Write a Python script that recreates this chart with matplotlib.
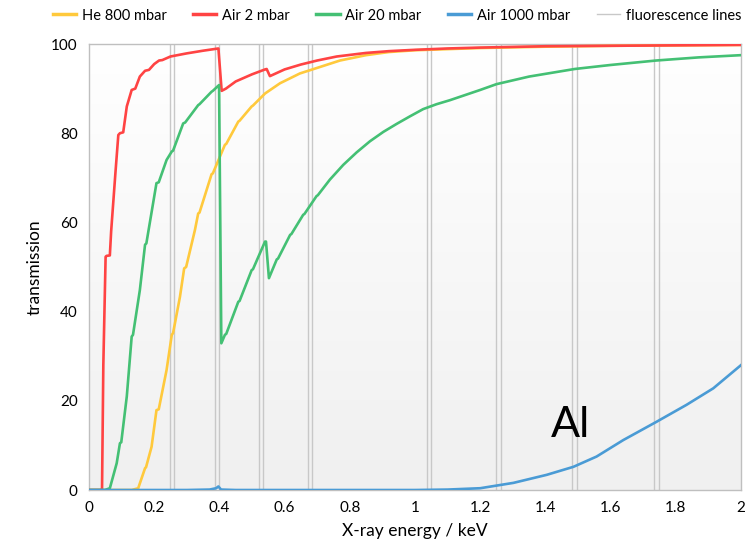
import numpy as np
import matplotlib
matplotlib.use("Agg")
import matplotlib.pyplot as plt
from matplotlib.lines import Line2D
from matplotlib.colors import LinearSegmentedColormap

plt.rcParams['font.family'] = ['Lato', 'DejaVu Sans']

# ---- data ----
red_x = [0, 0.036, 0.040, 0.044, 0.051, 0.054, 0.064, 0.068, 0.081, 0.09, 0.095, 0.105, 0.116,
         0.131, 0.142, 0.156, 0.172, 0.184, 0.2, 0.215, 0.225, 0.25, 0.3, 0.35, 0.397, 0.407,
         0.42, 0.45, 0.5, 0.54, 0.545, 0.555, 0.6, 0.65, 0.7, 0.76, 0.85, 0.92, 1.0, 1.1, 1.2,
         1.4, 1.6, 1.8, 2.0]
red_y = [0, 0, 0, 28, 52.3, 52.5, 52.6, 58, 71, 79.6, 80, 80.2, 86,
         89.7, 90, 92.7, 94, 94.2, 95.5, 96.3, 96.4, 97.2, 97.9, 98.5, 99.0, 89.5,
         90, 91.6, 93.2, 94.3, 94.4, 92.8, 94.3, 95.4, 96.3, 97.2, 98.0, 98.4, 98.7, 99.0, 99.2,
         99.5, 99.6, 99.7, 99.8]

yel_x = [0, 0.131, 0.151, 0.172, 0.175, 0.192, 0.207, 0.214, 0.238, 0.254, 0.258, 0.279, 0.292,
         0.298, 0.325, 0.335, 0.339, 0.376, 0.380, 0.417, 0.421, 0.458, 0.462, 0.499, 0.503,
         0.540, 0.586, 0.647, 0.698, 0.770, 0.85, 0.92, 1.0, 1.2, 1.4, 1.6, 1.8, 2.0]
yel_y = [0, 0, 0.4, 4.9, 5.1, 9.7, 17.9, 18.1, 26.9, 34.8, 35.2, 43.3, 49.7,
         50, 58.3, 62, 62.2, 70.8, 71, 77.4, 77.6, 82.6, 82.8, 86, 86.2,
         88.9, 91.2, 93.4, 94.6, 96.3, 97.5, 98.2, 98.6, 99.1, 99.4, 99.6, 99.7, 99.8]

grn_x = [0, 0.049, 0.064, 0.085, 0.095, 0.099, 0.116, 0.131, 0.135, 0.156, 0.172, 0.176, 0.207,
         0.214, 0.238, 0.254, 0.258, 0.289, 0.295, 0.335, 0.339, 0.376, 0.380, 0.399, 0.406,
         0.417, 0.421, 0.458, 0.462, 0.499, 0.503, 0.540, 0.543, 0.552, 0.576, 0.580, 0.617,
         0.621, 0.657, 0.661, 0.698, 0.702, 0.739, 0.780, 0.821, 0.862, 0.903, 0.944, 0.985,
         1.025, 1.066, 1.107, 1.2, 1.25, 1.35, 1.49, 1.6, 1.74, 1.87, 2.0]
grn_y = [0, 0, 0.4, 6, 10.5, 10.7, 21, 34.4, 34.8, 44.8, 55, 55.3, 68.8,
         69, 74, 75.9, 76.1, 82.2, 82.4, 86.3, 86.5, 89.3, 89.5, 90.8, 32.9,
         34.8, 35.0, 42.2, 42.4, 49.3, 49.5, 55.7, 55.7, 47.5, 51.7, 51.9, 57.2,
         57.4, 61.7, 61.9, 65.9, 66.1, 69.6, 72.9, 75.7, 78.2, 80.3, 82.1, 83.8,
         85.4, 86.5, 87.4, 89.7, 91.0, 92.7, 94.4, 95.3, 96.3, 97.0, 97.5]

blu_x = [0, 0.30, 0.37, 0.39, 0.397, 0.405, 0.45, 1.0, 1.1, 1.2, 1.302, 1.404, 1.486, 1.557,
         1.639, 1.741, 1.833, 1.915, 2.0]
blu_y = [0, 0, 0.1, 0.4, 0.8, 0.1, 0, 0, 0.1, 0.4, 1.6, 3.4, 5.2, 7.5,
         11.2, 15.3, 19.1, 22.8, 28]

fl_x = [0.25, 0.262, 0.387, 0.398, 0.521, 0.534, 0.673, 0.685, 1.036, 1.048,
        1.250, 1.263, 1.483, 1.497, 1.732, 1.747]

labels = ["He 800 mbar", "Air 2 mbar", "Air 20 mbar", "Air 1000 mbar", "fluorescence lines"]
x_ticks = [0, 0.2, 0.4, 0.6, 0.8, 1, 1.2, 1.4, 1.6, 1.8, 2]
y_ticks = [0, 20, 40, 60, 80, 100]

c_yel = '#FFC93C'
c_red = '#FF4343'
c_grn = '#44C074'
c_blu = '#4A9BD5'
c_fl = '#C8C8C8'

fig = plt.figure(figsize=(7.49, 5.55), dpi=100)
ax = fig.add_axes([0.1188, 0.1171, 0.8705, 0.8036])

# background gradient: white at top, light grey at bottom
grad = np.linspace(0.0, 1.0, 256).reshape(-1, 1)
cmap = LinearSegmentedColormap.from_list('bg', ['#F0F0F0', '#FFFFFF'])
ax.imshow(grad, extent=[0, 1, 0, 1], transform=ax.transAxes, cmap=cmap,
          aspect='auto', zorder=0, origin='lower')

for xv in fl_x:
    ax.axvline(xv, color=c_fl, lw=1.0, zorder=1)

lw = 1.9
ax.plot(yel_x, yel_y, color=c_yel, lw=lw, zorder=3)
ax.plot(red_x, red_y, color=c_red, lw=lw, zorder=4)
ax.plot(grn_x, grn_y, color=c_grn, lw=lw, zorder=5)
ax.plot(blu_x, blu_y, color=c_blu, lw=lw, zorder=6)

ax.set_xlim(0, 2)
ax.set_ylim(0, 100)
ax.set_xticks(x_ticks)
ax.set_xticklabels([f"{v:g}" for v in x_ticks])
ax.set_yticks(y_ticks)
ax.set_yticklabels([f"{v:g}" for v in y_ticks])
ax.tick_params(length=0, labelsize=11, pad=8)
for s in ax.spines.values():
    s.set_color('#BFBFBF')
    s.set_linewidth(1.0)

ax.set_xlabel("X-ray energy / keV", fontsize=12.5, labelpad=6)
ax.set_ylabel("transmission", fontsize=12.5, labelpad=6)

ax.text(1.417, 11.9, "Al", fontsize=31, ha='left', va='baseline', zorder=7)

handles = [Line2D([], [], color=c_yel, lw=2.5), Line2D([], [], color=c_red, lw=2.5),
           Line2D([], [], color=c_grn, lw=2.5), Line2D([], [], color=c_blu, lw=2.5),
           Line2D([], [], color=c_fl, lw=1.0)]
fig.legend(handles, labels, loc='center', bbox_to_anchor=(0.53, 0.972), ncol=5,
           frameon=False, fontsize=10.5, handlelength=1.6, columnspacing=1.8,
           handletextpad=0.4)

fig.savefig("out.png", dpi=100)
